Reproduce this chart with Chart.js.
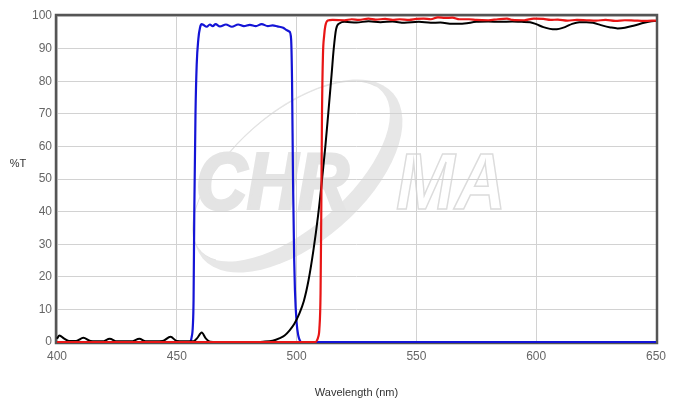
<!DOCTYPE html>
<html>
<head>
<meta charset="utf-8">
<script src="https://cdn.jsdelivr.net/npm/chart.js@4.4.1/dist/chart.umd.min.js"></script>
<style>
  html, body { margin: 0; padding: 0; background: #fff; }
  #wrap { position: relative; width: 679px; height: 404px; }
</style>
</head>
<body>
<div id="wrap"><canvas id="spectrum"></canvas></div>
<script>
// --- data (wavelength nm, %T) ---
const xTicks = [400, 450, 500, 550, 600, 650];

const blueNm = [400, 455.5, 456.2, 456.7, 457, 457.3, 457.8, 458.3, 459, 459.7, 460.4, 461, 462.5, 463.8, 465, 466.2, 468, 470.5, 473, 475.6, 478, 480.5, 483, 485.4, 488, 490, 492, 494.4, 496, 497, 497.7, 498.1, 498.5, 499, 499.3, 500, 500.7, 501.5, 502, 650];
const blueT  = [0,   0,     1.5,   5,     13,  40,    70,    85,    93,  96.5,  97.5,  97.3,  96.7,  97.4,  96.9,  97.5,  96.8,  97.4,  96.7,  97.4,  96.9,  97.3,  96.9,  97.5,  96.9,  97.1,  96.8,  96.4,  95.6, 95.2, 93,   80,    50,    25,  16,    6,   2,     0.3,   0,   0];

const blackNm = [400, 401, 403, 405, 408, 411, 414, 419, 422, 425, 431, 434.4, 437, 444, 447.4, 450, 457, 458.5, 460.4, 462, 464, 470, 480, 486, 490, 493, 495, 497, 499, 501, 503, 505, 507, 509, 510.5, 512, 513.2, 514.6, 515.5, 516.5, 518, 520, 525, 530, 535, 540, 545, 551, 556, 560, 565, 570, 575, 580, 585, 590, 594, 597.4, 600, 603, 607.8, 612, 615, 618, 621, 623.7, 627, 631, 634, 637, 641, 645, 647.5, 650];
const blackT  = [1.0, 2.0, 1.0, 0.3, 0.3, 1.3, 0.3, 0.2, 1.0, 0.2, 0.2, 1.0,   0.2, 0.3, 1.6,   0.3, 0.2, 1.2,   2.9,   1.2, 0.1, 0,   0,   0.1, 0.4, 1.2, 2.0, 3.5, 5.5, 8.5, 12.5, 19, 28,  39,  49,    60,  70,    82,    90,    96,    97.8, 98.2, 98.0, 98.4, 98.1, 98.3, 97.9, 98.2, 97.9, 98.0, 97.6, 97.7, 98.2, 98.3, 98.2, 98.3, 98.2, 98.1,  97.5, 96.6, 95.9, 96.6, 97.6, 98.1, 98.1, 97.9,  97.2, 96.5, 96.2, 96.4, 97.1, 97.9, 98.3, 98.5];

const redNm = [400, 508, 508.5, 509, 509.5, 510, 510.3, 510.6, 511, 511.5, 512, 513, 515, 520, 523, 526, 530, 533, 537, 540, 543, 547, 550, 553, 556, 559, 562, 565, 568, 572, 575, 580, 584, 587.8, 590, 595, 599, 603, 606, 609, 613, 617, 621, 625, 629, 633, 637, 641, 645, 650];
const redT  = [0,   0,   0.5,   1.5, 4,     15,  40,    70,    88,  94,    97,  98.6, 98.8, 98.7, 99.0, 98.8, 99.2, 98.9, 99.1, 98.8, 99.0, 98.8, 99.1, 99.2, 99.0, 99.6, 99.4, 99.5, 99.0, 99.0, 98.8, 98.7, 99.0, 99.2, 98.8, 98.7, 99.2, 99.1, 98.8, 98.9, 98.6, 98.8, 98.7, 98.6, 98.8, 98.5, 98.7, 98.6, 98.5, 98.6];

function pairs(xs, ys) {
    return xs.map((x, i) => ({ x: x, y: ys[i] }));
}

// watermark, frame and horizontal %T label
const decor = {
    id: 'decor',
    beforeDraw(chart) {
        const ctx = chart.ctx;
        // swoosh ring (crescent: thin upper-left, thick lower-right)
        ctx.save();
        ctx.translate(298, 176);
        ctx.rotate(-41 * Math.PI / 180);
        ctx.fillStyle = '#e7e7e7';
        ctx.beginPath();
        ctx.ellipse(0, 0, 126, 66, 0, 0, Math.PI * 2);
        ctx.fill();
        ctx.fillStyle = '#ffffff';
        ctx.beginPath();
        ctx.ellipse(-2, -8, 121, 57, 0, 0, Math.PI * 2);
        ctx.fill();
        ctx.strokeStyle = '#e2e2e2';
        ctx.lineWidth = 1;
        ctx.beginPath();
        ctx.ellipse(-2, -8, 121, 57, 0, Math.PI * 0.9, Math.PI * 1.95);
        ctx.stroke();
        ctx.restore();

        ctx.save();
        ctx.font = 'italic bold 76px "Liberation Sans", Arial, sans-serif';
        ctx.textBaseline = 'alphabetic';
        ctx.fillStyle = '#e4e4e4';
        ctx.strokeStyle = '#e4e4e4';
        ctx.lineWidth = 3;
        ctx.setTransform(0.93, 0, 0, 1.05, 0, 0);
        ctx.fillText('CHR', 196 / 0.93, 209 / 1.05);
        ctx.strokeText('CHR', 196 / 0.93, 209 / 1.05);
        ctx.strokeStyle = '#dcdcdc';
        ctx.lineWidth = 1.5;
        ctx.strokeText('MA', 396 / 0.93, 209 / 1.05);
        ctx.restore();
    },
    beforeDatasetsDraw(chart) {
        const ctx = chart.ctx;
        const a = chart.chartArea;
        ctx.save();
        ctx.strokeStyle = '#555555';
        ctx.lineWidth = 2.5;
        ctx.strokeRect(a.left - 1, a.top - 1, a.right - a.left + 2, a.bottom - a.top + 2);
        ctx.restore();
    },
    afterDraw(chart) {
        const ctx = chart.ctx;
        ctx.save();
        ctx.font = '11px "Liberation Sans", Arial, sans-serif';
        ctx.fillStyle = '#333333';
        ctx.textAlign = 'center';
        ctx.textBaseline = 'middle';
        ctx.fillText('%T', 18, 164);
        ctx.restore();
    }
};

Chart.defaults.font.family = '"Liberation Sans", Arial, sans-serif';
Chart.defaults.animation = false;

new Chart(document.getElementById('spectrum'), {
    type: 'line',
    data: {
        datasets: [
            { label: 'Excitation', data: pairs(blueNm, blueT), borderColor: '#1414d6', borderWidth: 2.2, order: 3 },
            { label: 'Dichroic', data: pairs(blackNm, blackT), borderColor: '#000000', borderWidth: 2, order: 2 },
            { label: 'Emission', data: pairs(redNm, redT), borderColor: '#e81515', borderWidth: 2.2, order: 1 }
        ]
    },
    options: {
        responsive: true,
        maintainAspectRatio: false,
        layout: { padding: { top: 16, right: 23, bottom: 0, left: 0 } },
        elements: {
            point: { radius: 0 },
            line: { cubicInterpolationMode: 'monotone', fill: false }
        },
        datasets: { line: { clip: false } },
        plugins: { legend: { display: false }, tooltip: { enabled: false } },
        scales: {
            x: {
                type: 'linear', min: 400, max: 650,
                afterBuildTicks: (s) => { s.ticks = xTicks.map(v => ({ value: v })); },
                afterFit: (s) => { s.height = 62; },
                grid: { color: '#d2d2d2', lineWidth: 1, drawTicks: false },
                border: { display: false },
                ticks: { color: '#666', font: { size: 12 }, padding: 7, maxRotation: 0 },
                title: { display: true, text: 'Wavelength (nm)', color: '#333', font: { size: 11 } }
            },
            y: {
                min: 0, max: 100,
                afterFit: (s) => { s.width = 57; },
                grid: { color: '#d2d2d2', lineWidth: 1, drawTicks: false },
                border: { display: false },
                ticks: { stepSize: 10, color: '#666', font: { size: 12 }, padding: 5 }
            }
        }
    },
    plugins: [decor]
});
</script>
</body>
</html>
